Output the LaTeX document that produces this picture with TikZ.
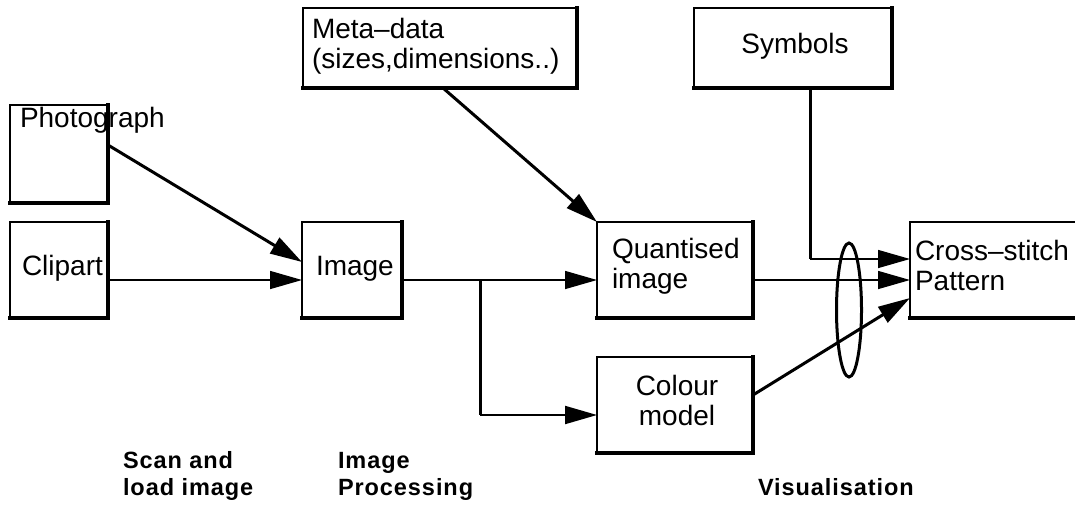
\documentclass[tikz,border=0pt]{standalone}
\usepackage{fontspec}
\setmainfont{Liberation Sans}
\newfontfamily\stagefont[LetterSpace=4]{Liberation Sans}
\usetikzlibrary{arrows.meta,shapes.geometric,calc}

\tikzset{
  panel/.style={draw, line width=1.5pt, rectangle, inner sep=0pt, outer sep=0pt},
  lbl/.style={inner sep=0pt, outer sep=0pt, font=\fontsize{28}{29.5}\selectfont, align=left},
  stage/.style={inner sep=0pt, outer sep=0pt, font=\stagefont\bfseries\fontsize{23.5}{27}\selectfont, align=left},
  thin/.style={line width=1.5pt},
  thick line/.style={line width=3pt},
  flow/.style={-{Triangle[length=32pt,width=18pt]}},
}

\begin{document}
\begin{tikzpicture}[x=1pt,y=-1pt]
\useasboundingbox (0,0) rectangle (1075,512);
\clip (0,0) rectangle (1075,512);

% boxes
\node[panel, minimum width=98pt,  minimum height=98pt] (photo)   at (59,154)  {};
\node[panel, minimum width=98pt,  minimum height=96pt] (clip)    at (59,270)  {};
\node[panel, minimum width=100pt, minimum height=96pt] (image)   at (352,270) {};
\node[panel, minimum width=274pt, minimum height=80pt] (meta)    at (440,48)  {};
\node[panel, minimum width=198pt, minimum height=80pt] (symbols) at (793,48)  {};
\node[panel, minimum width=156pt, minimum height=96pt] (quant)   at (675,270) {};
\node[panel, minimum width=156pt, minimum height=96pt] (colour)  at (675,405) {};
\node[panel, minimum width=180pt, minimum height=96pt] (cross)   at (1000,270) {};

% heavier lower and right edges of each box
\foreach \b in {photo,clip,image,meta,symbols,quant,colour,cross}
  \draw[line width=3.5pt, line cap=rect] (\b.south west) -- (\b.south east) -- (\b.north east);

% box texts (multi-line texts are placed by their last baseline)
\node[lbl, anchor=base west] (tphoto) at (20,127) {Photograph};
\node[lbl, anchor=base west] (tclip)  at (22,275) {Clipart};
\node[lbl, anchor=base west] (timage) at (316,275) {Image};
\node[lbl, anchor=base west] (tmeta)  at (312,68) {Meta--data\\(sizes,dimensions..)};
\node[lbl, anchor=base] (tsym) at (795,53) {Symbols};
\node[lbl, anchor=base west] (tquant) at (612,288) {Quantised\\image};
\node[lbl, anchor=base west] (tcross) at (915,290) {Cross--stitch\\Pattern};
\node[lbl, anchor=base, align=center] (tcolour) at (677,425) {Colour\\model};

% stage captions
\node[stage, anchor=base west] (s1) at (123,495) {Scan and\\load image};
\node[stage, anchor=base west] (s2) at (338,495) {Image\\Processing};
\node[stage, anchor=base west] (s3) at (758,495) {Visualisation};

% connectors
\draw[thick line, flow] ($(photo.north east)+(0,40)$) -- ($(image.west)+(0,-8)$);
\draw[thin, flow] ($(clip.east)+(0,10)$) -- ($(image.west)+(0,10)$);
\draw[thick line, flow] ($(meta.south)+(3,0)$) -- (quant.north west);
\draw[thin, flow] ($(image.east)+(0,10)$) -- ($(quant.west)+(0,10)$);
\coordinate (split) at (480,280);
\coordinate (bend) at (480,415);
\draw[thick line] (split) -- (bend);
\draw[line width=2pt, flow] (bend) -- ($(colour.west)+(0,10)$);
\coordinate (drop) at ($(symbols.south)+(17,0)$);
\draw[thick line] (drop) -- (drop |- 0,259);
\draw[thin, flow] (drop |- 0,259) -- ($(cross.west)+(0,-11)$);
\draw[thin, flow] ($(quant.east)+(0,10)$) -- ($(cross.west)+(0,10)$);
\draw[thick line, flow] ($(colour.east)+(0,-10)$) -- ($(cross.west)+(0,28)$);

% grouping ellipse over the three inputs
\node[draw, ellipse, line width=3pt, minimum width=25pt, minimum height=134pt, inner sep=0pt] (lens) at (849,310) {};
\end{tikzpicture}
\end{document}
